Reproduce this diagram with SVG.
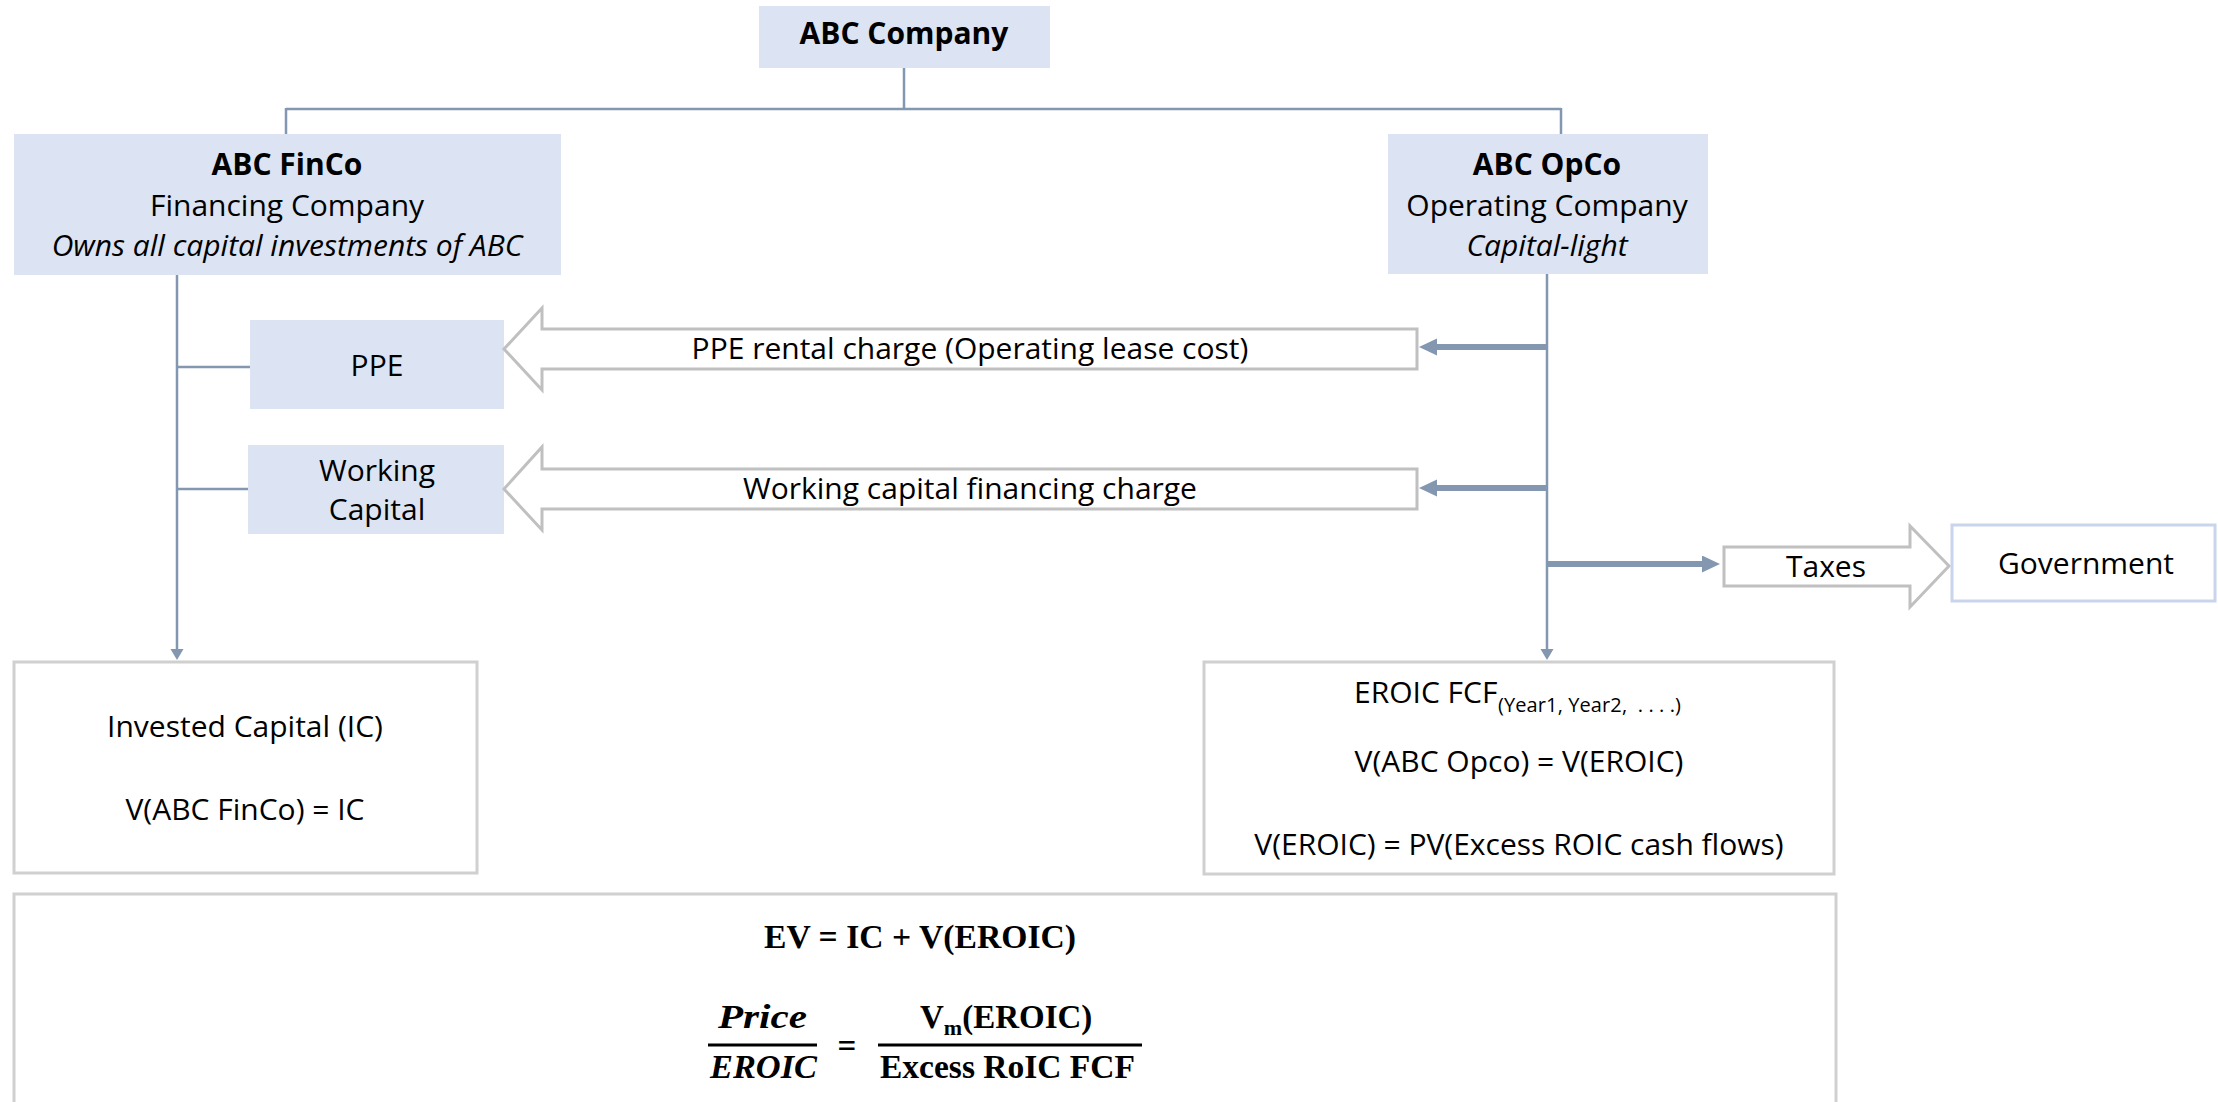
<svg xmlns="http://www.w3.org/2000/svg" width="2218" height="1102" viewBox="0 0 2218 1102">
<style>
.t{font-family:"Open Sans","Liberation Sans",sans-serif;font-size:30px;fill:#000;text-anchor:middle}
.b{font-weight:bold}
.i{font-style:italic}
.blue{fill:#dce3f2;stroke:none}
.wbox{fill:#fff;stroke:#d0d0d0;stroke-width:3}
.blk{fill:#fff;stroke:#c0c0c0;stroke-width:3}
.ln{stroke:#8497b0;stroke-width:2.5;fill:none}
.thick{stroke:#8497b0;stroke-width:6;fill:none}
.m{font-family:"Liberation Serif","DejaVu Serif",serif;font-size:33px;font-weight:bold;fill:#000}
</style>
<defs>
<marker id="ah" markerUnits="userSpaceOnUse" markerWidth="12" markerHeight="14" refX="0" refY="6.5" orient="auto">
<path d="M0,0 L11,6.5 L0,13 z" fill="#8497b0"/>
</marker>
<marker id="ahb" markerUnits="userSpaceOnUse" markerWidth="19" markerHeight="18" refX="0" refY="8.5" orient="auto">
<path d="M0,0 L18,8.5 L0,17 z" fill="#8497b0"/>
</marker>
</defs>

<g id="connectors">
<path class="ln" d="M904,68 V109 M286,109 H1561 M286,108 V134 M1561,108 V134"/>
<line class="ln" x1="177" y1="275" x2="177" y2="649" marker-end="url(#ah)"/>
<line class="ln" x1="177" y1="367" x2="250" y2="367"/>
<line class="ln" x1="177" y1="489" x2="248" y2="489"/>
<line class="ln" x1="1547" y1="274" x2="1547" y2="649" marker-end="url(#ah)"/>
<line class="thick" x1="1547" y1="347" x2="1437" y2="347" marker-end="url(#ahb)"/>
<line class="thick" x1="1547" y1="488" x2="1437" y2="488" marker-end="url(#ahb)"/>
<line class="thick" x1="1547" y1="564" x2="1702" y2="564" marker-end="url(#ahb)"/>
</g>

<g id="abc-company">
<rect class="blue" x="759" y="6" width="291" height="62"/>
<text class="t b" x="904" y="44">ABC Company</text>
</g>

<g id="abc-finco">
<rect class="blue" x="14" y="134" width="547" height="141"/>
<text class="t b" x="287" y="175">ABC FinCo</text>
<text class="t" x="287" y="216">Financing Company</text>
<text class="t i" x="287" y="256">Owns all capital investments of ABC</text>
</g>

<g id="abc-opco">
<rect class="blue" x="1388" y="134" width="320" height="140"/>
<text class="t b" x="1547" y="175">ABC OpCo</text>
<text class="t" x="1547" y="216">Operating Company</text>
<text class="t i" x="1547" y="256">Capital-light</text>
</g>

<g id="ppe">
<rect class="blue" x="250" y="320" width="254" height="89"/>
<text class="t" x="377" y="376">PPE</text>
</g>

<g id="working-capital">
<rect class="blue" x="248" y="445" width="256" height="89"/>
<text class="t" x="377" y="481">Working</text>
<text class="t" x="377" y="520">Capital</text>
</g>

<g id="ppe-rental-charge">
<polygon class="blk" points="504,349 542,308 542,329 1417,329 1417,369 542,369 542,390"/>
<text class="t" x="970" y="359">PPE rental charge (Operating lease cost)</text>
</g>

<g id="wc-financing-charge">
<polygon class="blk" points="504,489 542,447 542,469 1417,469 1417,509 542,509 542,530"/>
<text class="t" x="970" y="499">Working capital financing charge</text>
</g>

<g id="taxes">
<polygon class="blk" points="1724,547 1910,547 1910,526 1949,566 1910,607 1910,586 1724,586"/>
<text class="t" x="1826" y="577">Taxes</text>
</g>

<g id="government">
<rect x="1952" y="525" width="263" height="76" fill="#fff" stroke="#c8d5ec" stroke-width="3"/>
<text class="t" x="2086" y="574">Government</text>
</g>

<g id="invested-capital">
<rect class="wbox" x="14" y="662" width="463" height="211"/>
<text class="t" x="245" y="737">Invested Capital (IC)</text>
<text class="t" x="245" y="820">V(ABC FinCo) = IC</text>
</g>

<g id="eroic">
<rect class="wbox" x="1204" y="662" width="630" height="212"/>
<text class="t" x="1354" y="703" style="text-anchor:start">EROIC FCF</text>
<text class="t" x="1498" y="712" style="text-anchor:start;font-size:20px" xml:space="preserve" textLength="183" lengthAdjust="spacing">(Year1, Year2,  . . . .)</text>
<text class="t" x="1519" y="772">V(ABC Opco) = V(EROIC)</text>
<text class="t" x="1519" y="855">V(EROIC) = PV(Excess ROIC cash flows)</text>
</g>

<g id="formula">
<rect class="wbox" x="14" y="894" width="1822" height="220"/>
<text class="m" x="764" y="948" textLength="312" lengthAdjust="spacingAndGlyphs">EV = IC + V(EROIC)</text>
<text class="m" x="718" y="1028" font-style="italic" textLength="89" lengthAdjust="spacingAndGlyphs">Price</text>
<line x1="708" y1="1045" x2="817" y2="1045" stroke="#000" stroke-width="3"/>
<text class="m" x="710" y="1078" font-style="italic" textLength="107" lengthAdjust="spacingAndGlyphs">EROIC</text>
<text class="m" x="847" y="1057" text-anchor="middle">=</text>
<line x1="878" y1="1045" x2="1142" y2="1045" stroke="#000" stroke-width="3"/>
<text class="m" x="920" y="1028">V<tspan font-size="22" dy="7">m</tspan><tspan dy="-7">(EROIC)</tspan></text>
<text class="m" x="880" y="1078" textLength="255" lengthAdjust="spacingAndGlyphs">Excess RoIC FCF</text>
</g>
</svg>
